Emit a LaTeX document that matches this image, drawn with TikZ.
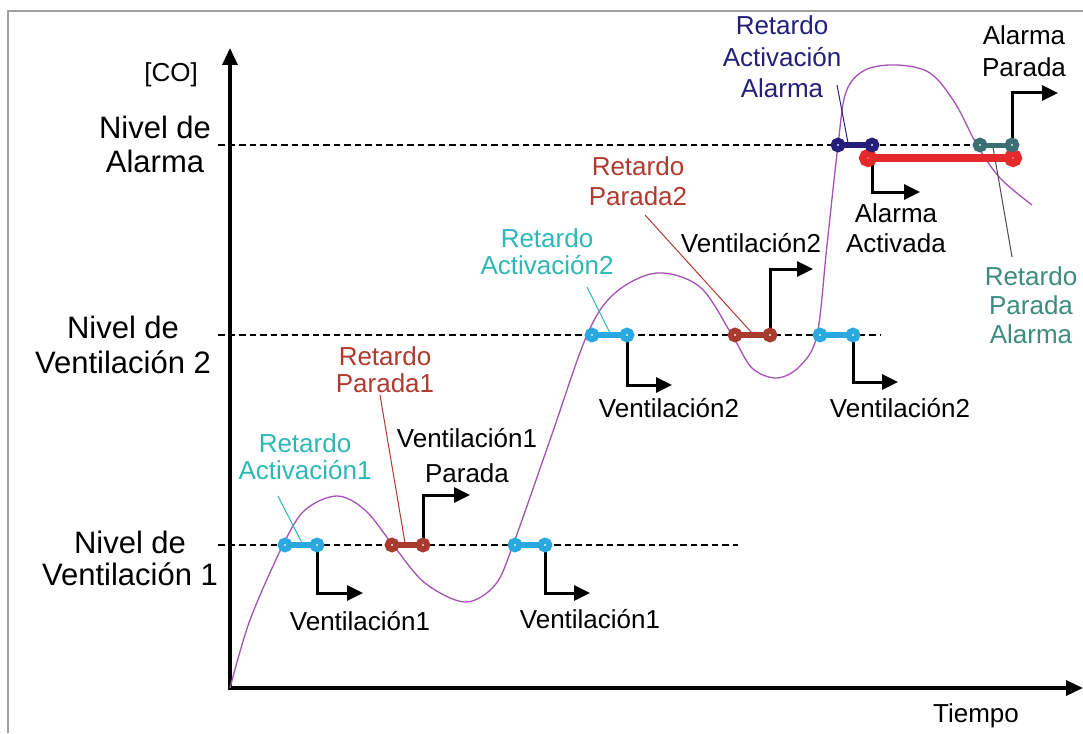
\documentclass[tikz,border=0pt]{standalone}
\usepackage{fontspec}
\setmainfont{Liberation Sans}
\usetikzlibrary{arrows.meta}
\definecolor{cyanD}{HTML}{2AA9E0}
\definecolor{cyanT}{HTML}{2EB8B5}
\definecolor{brownD}{HTML}{A83A2E}
\definecolor{brownT}{HTML}{B03A2E}
\definecolor{navyC}{HTML}{24207A}
\definecolor{redbar}{HTML}{E62A2C}
\definecolor{tealD}{HTML}{3B6F73}
\definecolor{tealT}{HTML}{3E8C7E}
\definecolor{curveC}{HTML}{A652B5}
\definecolor{frameC}{HTML}{A0A0A0}
\newcommand\dumbbell[6]{%
  \coordinate (#1l) at (#3,#5);
  \coordinate (#1r) at (#4,#5);
  \draw[#2, line width=#6] (#1l) -- (#1r);
  \draw[#2, line width=6pt, fill=white] (#1l) circle[radius=4.3pt] (#1r) circle[radius=4.3pt];
}
\begin{document}
\begin{tikzpicture}[x=1pt,y=-1pt,
  lbl/.style={font=\fontsize{26}{30}\selectfont, align=center, inner sep=0pt, anchor=base},
  big/.style={font=\fontsize{31}{35}\selectfont, align=center, inner sep=0pt, anchor=base},
  lvl/.style={line width=2.6pt, dash pattern=on 6.5pt off 4pt},
  arr/.style={line width=3pt, -{Triangle[length=16pt,width=15pt]}},
  axisline/.style={line width=3.4pt},
  ptr/.style={line width=1pt},
  curve/.style={curveC, line width=1.3pt}]
\useasboundingbox (0,0) rectangle (1083,733);
\fill[white] (0,0) rectangle (1083,733);
% frame
\coordinate (fb) at (8,733);
\coordinate (fc) at (8,11);
\coordinate (fr) at (1083,11);
\draw[frameC, line width=2pt] (fb) -- (fc) -- (fr);
% axes
\coordinate (O) at (230,688);
\coordinate (ytop) at (230,48);
\coordinate (xend) at (1083,688);
\draw[axisline, {Triangle[length=17pt,width=15pt]}-{Triangle[length=17pt,width=15pt]}] (ytop) -- (O) -- (xend);
% level lines
\coordinate (a1) at (218,145); \coordinate (a2) at (982,145);
\coordinate (v21) at (218,335); \coordinate (v22) at (880,335);
\coordinate (v11) at (218,545); \coordinate (v12) at (738,545);
\draw[lvl] (a1) -- (a2);
\draw[lvl] (v21) -- (v22);
\draw[lvl] (v11) -- (v12);
% curve
\draw[curve] plot[smooth, tension=0.55] coordinates {(230,688) (250,620) (283,545) (305,510) (337,496) (365,510) (393,545) (425,583) (465,602) (495,585) (513,545) (550,440) (587,335) (615,293) (657,273) (700,287) (732,335) (752,368) (777,378) (800,366) (817,335) (827,245) (838,145) (846,92) (865,70) (897,65) (930,73) (955,103) (977,145) (1000,178) (1032,205)};
% pointers
\coordinate (p1a) at (278,496); \coordinate (p1b) at (302,543);
\coordinate (p2a) at (380,395); \coordinate (p2b) at (405,543);
\coordinate (p3a) at (587,287); \coordinate (p3b) at (610,333);
\coordinate (p4a) at (645,215); \coordinate (p4b) at (752,333);
\coordinate (p5a) at (837,85); \coordinate (p5b) at (848,143);
\coordinate (p6a) at (1012,257); \coordinate (p6b) at (993,147);
\draw[ptr, cyanT] (p1a) -- (p1b);
\draw[ptr, brownT] (p2a) -- (p2b);
\draw[ptr, cyanT] (p3a) -- (p3b);
\draw[ptr, brownT] (p4a) -- (p4b);
\draw[ptr, navyC] (p5a) -- (p5b);
\draw[ptr, black!70] (p6a) -- (p6b);
% arrow targets
\coordinate (t1) at (363,593);
\coordinate (t2) at (470,495);
\coordinate (t3) at (590,593);
\coordinate (t4) at (672,385);
\coordinate (t5) at (813,269);
\coordinate (t6) at (898,382);
\coordinate (t7) at (920,192);
\coordinate (t8) at (1058,93);
\coordinate (s1) at (317,545);
\coordinate (s2) at (423,545);
\coordinate (s3) at (545,545);
\coordinate (s4) at (627,335);
\coordinate (s5) at (770,335);
\coordinate (s6) at (853,335);
\coordinate (s7) at (872,145);
\coordinate (s8) at (1012,145);
\draw[arr] (s1) |- (t1);
\draw[arr] (s2) |- (t2);
\draw[arr] (s3) |- (t3);
\draw[arr] (s4) |- (t4);
\draw[arr] (s5) |- (t5);
\draw[arr] (s6) |- (t6);
\draw[arr] (s7) |- (t7);
\draw[arr] (s8) |- (t8);
% dumbbells
\dumbbell{c1}{cyanD}{285}{317}{545}{6pt}
\dumbbell{b1}{brownD}{392}{423}{545}{6pt}
\dumbbell{c2}{cyanD}{515}{545}{545}{6pt}
\dumbbell{c3}{cyanD}{592}{627}{335}{6pt}
\dumbbell{b2}{brownD}{735}{770}{335}{6pt}
\dumbbell{c4}{cyanD}{820}{853}{335}{6pt}
\coordinate (rl) at (868,158);
\coordinate (rr) at (1013,158);
\draw[redbar, line width=7.5pt] (rl) -- (rr);
\draw[redbar, line width=8pt, fill=white] (rl) circle[radius=5pt] (rr) circle[radius=5pt];
\dumbbell{n1}{navyC}{838}{872}{145}{6pt}
\dumbbell{g1}{tealD}{980}{1012}{145}{5pt}
% texts
\node[lbl] (co) at (171,82) {[CO]};
\node[lbl] (tiempo) at (976,722) {Tiempo};
\node[big, font=\fontsize{31}{34}\selectfont] (la) at (155,172) {Nivel de\\Alarma};
\node[big] (lv2) at (123,373) {Nivel de\\Ventilación 2};
\node[big, font=\fontsize{31}{32}\selectfont] (lv1) at (130,585) {Nivel de\\Ventilación 1};
\node[lbl] (v1a) at (360,630) {Ventilación1};
\node[lbl, font=\fontsize{26}{35}\selectfont] (v1p) at (467,482) {Ventilación1\\Parada};
\node[lbl] (v1b) at (590,628) {Ventilación1};
\node[lbl, font=\fontsize{26}{27}\selectfont, text=cyanT] (ra1) at (305,479) {Retardo\\Activación1};
\node[lbl, font=\fontsize{26}{27}\selectfont, text=brownT] (rp1) at (385,392) {Retardo\\Parada1};
\node[lbl] (v2a) at (669,417) {Ventilación2};
\node[lbl] (v2b) at (751,252) {Ventilación2};
\node[lbl] (v2c) at (900,417) {Ventilación2};
\node[lbl, font=\fontsize{26}{27}\selectfont, text=cyanT] (ra2) at (547,274) {Retardo\\Activación2};
\node[lbl, text=brownT] (rp2) at (638,205) {Retardo\\Parada2};
\node[lbl, font=\fontsize{26}{31.5}\selectfont, text=navyC] (raa) at (782,98) {Retardo\\Activación\\Alarma};
\node[lbl] (aa) at (896,252) {Alarma\\Activada};
\node[lbl, font=\fontsize{26}{32}\selectfont] (ap) at (1024,77) {Alarma\\Parada};
\node[lbl, font=\fontsize{26}{29}\selectfont, text=tealT] (rpa) at (1031,343) {Retardo\\Parada\\Alarma};
\end{tikzpicture}
\end{document}
